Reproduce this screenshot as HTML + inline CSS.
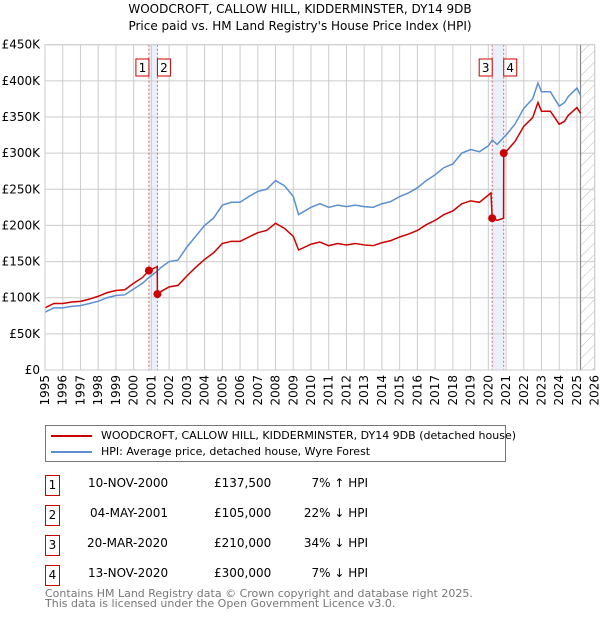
<!DOCTYPE html>
<html><head><meta charset="utf-8"><style>
body{margin:0;width:600px;height:620px;background:#fff;font-family:"DejaVu Sans","Liberation Sans",sans-serif;overflow:hidden;position:relative}
svg{position:absolute;left:0;top:0}
.t{position:absolute;font-size:12px;color:#000;white-space:nowrap}
.nb{position:absolute;left:45px;width:13px;height:19px;border:1px solid #c00;font-size:12px;text-align:center;line-height:19px}
</style></head><body>
<svg id="chart" width="600" height="420"></svg>
<div class="t" style="left:0;width:600px;text-align:center;top:1px;line-height:17px">WOODCROFT, CALLOW HILL, KIDDERMINSTER, DY14 9DB<br>Price paid vs. HM Land Registry's House Price Index (HPI)</div>
<div style="position:absolute;left:45px;top:425px;width:459px;height:35px;border:1px solid #777">
 <div style="position:absolute;left:5px;top:3px;font-size:11px;white-space:nowrap"><span style="display:inline-block;width:41px;height:2px;background:#c00;vertical-align:middle;margin-right:9px"></span>WOODCROFT, CALLOW HILL, KIDDERMINSTER, DY14 9DB (detached house)</div>
 <div style="position:absolute;left:5px;top:19px;font-size:11px;white-space:nowrap"><span style="display:inline-block;width:41px;height:2px;background:#5b8fd0;vertical-align:middle;margin-right:9px"></span>HPI: Average price, detached house, Wyre Forest</div>
</div>
<div>
 <div class="nb" style="top:475px">1</div>
 <div class="t" style="left:88px;top:476px">10-NOV-2000</div>
 <div class="t" style="left:214px;top:476px">£137,500</div>
 <div class="t" style="left:290px;width:78px;text-align:right;top:476px">7% ↑ HPI</div>
 <div class="nb" style="top:505px">2</div>
 <div class="t" style="left:90px;top:506px">04-MAY-2001</div>
 <div class="t" style="left:214px;top:506px">£105,000</div>
 <div class="t" style="left:290px;width:78px;text-align:right;top:506px">22% ↓ HPI</div>
 <div class="nb" style="top:535px">3</div>
 <div class="t" style="left:87px;top:536px">20-MAR-2020</div>
 <div class="t" style="left:214px;top:536px">£210,000</div>
 <div class="t" style="left:290px;width:78px;text-align:right;top:536px">34% ↓ HPI</div>
 <div class="nb" style="top:565px">4</div>
 <div class="t" style="left:88px;top:566px">13-NOV-2020</div>
 <div class="t" style="left:214px;top:566px">£300,000</div>
 <div class="t" style="left:290px;width:78px;text-align:right;top:566px">7% ↓ HPI</div>
</div>
<div class="t" style="left:45px;top:589px;font-size:11px;color:#777;line-height:10px">Contains HM Land Registry data © Crown copyright and database right 2025.<br>This data is licensed under the Open Government Licence v3.0.</div>
<script>
const yTicks=[0,50,100,150,200,250,300,350,400,450];
const xTicks=[1995,1996,1997,1998,1999,2000,2001,2002,2003,2004,2005,2006,2007,2008,2009,2010,2011,2012,2013,2014,2015,2016,2017,2018,2019,2020,2021,2022,2023,2024,2025,2026];
const hpiYears=[1995,1995.5,1996,1996.5,1997,1997.5,1998,1998.5,1999,1999.5,2000,2000.5,2000.86,2001.34,2001.5,2002,2002.5,2003,2003.5,2004,2004.5,2005,2005.5,2006,2006.5,2007,2007.5,2008,2008.5,2009,2009.3,2010,2010.5,2011,2011.5,2012,2012.5,2013,2013.5,2014,2014.5,2015,2015.5,2016,2016.5,2017,2017.5,2018,2018.5,2019,2019.5,2020,2020.22,2020.5,2020.87,2021,2021.5,2022,2022.5,2022.8,2023,2023.5,2024,2024.3,2024.5,2025,2025.2];
const hpiValues=[80,86,86,88,89,92,95,100,103,104,112,120,128,137,141,150,152,170,185,200,210,228,232,232,240,247,250,262,255,240,215,225,230,225,228,226,228,226,225,230,233,240,245,252,262,270,280,285,300,305,302,310,318,312,322,325,340,362,375,397,385,385,365,370,378,390,380];
const redYears=[1995,1995.5,1996,1996.5,1997,1997.5,1998,1998.5,1999,1999.5,2000,2000.5,2000.86,2001.33,2001.34,2001.5,2002,2002.5,2003,2003.5,2004,2004.5,2005,2005.5,2006,2006.5,2007,2007.5,2008,2008.5,2009,2009.3,2010,2010.5,2011,2011.5,2012,2012.5,2013,2013.5,2014,2014.5,2015,2015.5,2016,2016.5,2017,2017.5,2018,2018.5,2019,2019.5,2020.15,2020.22,2020.5,2020.86,2020.87,2021,2021.5,2022,2022.5,2022.8,2023,2023.5,2024,2024.3,2024.5,2025,2025.2];
const redValues=[86,92,92,94,95,98,102,107,110,111,120,128,137.5,143,105,108,115,117,130,142,153,162,175,178,178,184,190,193,203,196,185,166,174,177,172,175,173,175,173,172,176,179,184,188,193,201,207,215,220,230,234,232,245,210,207,210,300,302,316,337,349,370,358,358,340,344,352,363,355];
const saleYears=[2000.86,2001.34,2020.22,2020.87];
const saleValues=[137.5,105,210,300];
const saleLabels=["1","2","3","4"];
const X0=45,X1=594.7,Y0=370,Y1=44.7;
const sx=y=>X0+(y-1995)/(2026-1995)*(X1-X0);
const sy=v=>Y0-v/450*(Y0-Y1);
const NS="http://www.w3.org/2000/svg";
const svg=document.getElementById('chart');
function mk(t,a,p){const e=document.createElementNS(NS,t);for(const k in a)e.setAttribute(k,a[k]);(p||svg).appendChild(e);return e;}
// hatch pattern
const defs=mk('defs',{});
const pat=mk('pattern',{id:'hatch',width:8,height:8,patternUnits:'userSpaceOnUse',patternTransform:'rotate(45)'},defs);
mk('line',{x1:0,y1:0,x2:0,y2:8,stroke:'#bbb','stroke-width':1},pat);
// sale shaded bands
const b1=mk('rect',{x:sx(saleYears[0]),y:Y1,width:sx(saleYears[1])-sx(saleYears[0]),height:Y0-Y1,fill:'#eaf1fb'});


const b2=mk('rect',{x:sx(saleYears[2]),y:Y1,width:sx(saleYears[3])-sx(saleYears[2]),height:Y0-Y1,fill:'#eaf1fb'});


const fut=mk('rect',{x:sx(2025.2),y:Y1,width:X1-sx(2025.2),height:Y0-Y1,fill:'url(#hatch)'});


// grid
yTicks.forEach(v=>{
 const l=mk('line',{x1:X0,x2:X1,y1:sy(v),y2:sy(v),stroke:'#ccc','stroke-width':1});
 
 
 const t=mk('text',{x:40,y:sy(v)+4,'text-anchor':'end','font-size':12,'font-family':'DejaVu Sans, Liberation Sans, sans-serif'});
 t.textContent=v===0?'£0':'£'+v+'K';
 
 
});
xTicks.forEach(y=>{
 const l=mk('line',{x1:sx(y),x2:sx(y),y1:Y1,y2:Y0,stroke:'#ccc','stroke-width':1});
 
 
 const t=mk('text',{x:0,y:0,'text-anchor':'end','font-size':12,'font-family':'DejaVu Sans, Liberation Sans, sans-serif',transform:`translate(${sx(y)+4},${Y0+5}) rotate(-90)`});
 t.textContent=y;
 
 
});
const nowl=mk('line',{x1:sx(2025.2),x2:sx(2025.2),y1:Y1,y2:Y0,stroke:'#888','stroke-width':1.2});


saleYears.forEach(y=>{
 const l=mk('line',{x1:sx(y),x2:sx(y),y1:Y1,y2:Y0,stroke:'#e06060','stroke-width':1,'stroke-dasharray':'2,2'});
 
 
});
const hp=mk('polyline',{points:hpiYears.map((y,i)=>sx(y)+','+sy(hpiValues[i])).join(' '),fill:'none',stroke:'#5b8fd0','stroke-width':1.5});


const rp=mk('polyline',{points:redYears.map((y,i)=>sx(y)+','+sy(redValues[i])).join(' '),fill:'none',stroke:'#cc0000','stroke-width':1.5});


saleYears.forEach((y,i)=>{
 const c=mk('circle',{cx:sx(y),cy:sy(saleValues[i]),r:4,fill:'#cc0000'});
 
 
 const off=(i%2===0)?-13:0;
 const r=mk('rect',{x:sx(y)+off,y:59,width:13,height:17,fill:'#fff',stroke:'#c00','stroke-width':1});
 
 
 const t=mk('text',{x:sx(y)+off+6.5,y:72,'text-anchor':'middle','font-size':12,'font-family':'DejaVu Sans, Liberation Sans, sans-serif'});
 t.textContent=saleLabels[i];
 
 
});
const fr=mk('rect',{x:X0,y:Y1,width:X1-X0,height:Y0-Y1,fill:'none',stroke:'#ccc'});


</script>
</body></html>
